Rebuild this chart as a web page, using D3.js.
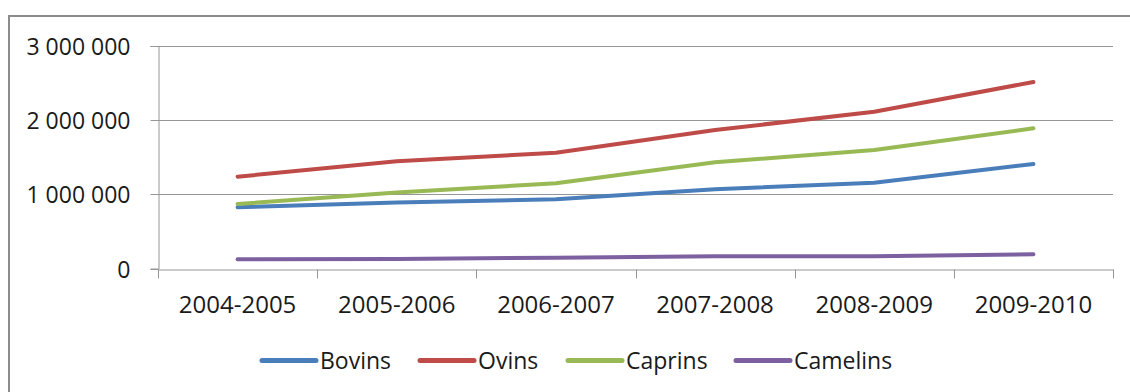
<!DOCTYPE html>
<html>
<head>
<meta charset="utf-8">
<script src="https://cdn.jsdelivr.net/npm/d3@7/dist/d3.min.js"></script>
<style>
  html, body { margin: 0; padding: 0; background: #fff; }
  svg { display: block; }
  text { font-family: "Open Sans", "Noto Sans", sans-serif; fill: #1a1a1a; }
</style>
</head>
<body>
<svg id="chart" width="1130" height="392"></svg>
<script>
// Campaign years (x categories)
const categories = ["2004-2005", "2005-2006", "2006-2007", "2007-2008", "2008-2009", "2009-2010"];

// Herd counts per species
const bovins   = [825000, 890000, 933000, 1068000, 1157000, 1409000];
const ovins    = [1238000, 1445000, 1561000, 1867000, 2114000, 2515000];
const caprins  = [870000, 1025000, 1149000, 1432000, 1598000, 1890000];
const camelins = [124000, 128000, 146000, 164000, 165000, 191000];

// Y axis ticks
const yTicks = [0, 1000000, 2000000, 3000000];
const yTickLabels = ["0", "1 000 000", "2 000 000", "3 000 000"];

const seriesNames = ["Bovins", "Ovins", "Caprins", "Camelins"];
const seriesColors = ["#4A7EBB", "#BE4B48", "#98B954", "#7D60A0"];

const series = [bovins, ovins, caprins, camelins].map((values, i) => ({
  name: seriesNames[i], color: seriesColors[i], values
}));

const svg = d3.select("#chart");

// Chart frame
svg.append("rect")
  .attr("x", 9).attr("y", 16)
  .attr("width", 1140).attr("height", 400)
  .attr("fill", "none").attr("stroke", "#8c8c8c").attr("stroke-width", 2);

const plot = { left: 158, right: 1113, top: 46, bottom: 268.5 };

const x = d3.scaleBand().domain(categories).range([plot.left, plot.right]).padding(0);
const y = d3.scaleLinear().domain([0, 3000000]).range([plot.bottom, plot.top]);

// Horizontal gridlines
svg.append("g")
  .selectAll("line")
  .data(yTicks.filter(t => t > 0))
  .join("line")
  .attr("x1", plot.left).attr("x2", plot.right)
  .attr("y1", d => Math.round(y(d)) + 0.5).attr("y2", d => Math.round(y(d)) + 0.5)
  .attr("stroke", "#969696").attr("stroke-width", 1);

// Y axis
const yAxis = d3.axisLeft(y)
  .tickValues(yTicks)
  .tickSize(8)
  .tickPadding(20)
  .tickFormat((d, i) => yTickLabels[i]);

const gy = svg.append("g").attr("transform", `translate(${plot.left + 0.5},0)`).call(yAxis);
gy.select(".domain").attr("stroke", "#969696");
gy.selectAll(".tick line").attr("stroke", "#969696");
gy.selectAll(".tick text").attr("font-size", 23).attr("dy", "0.36em").attr("fill", "#1a1a1a");
gy.selectAll(".tick").attr("transform", d => `translate(0,${Math.round(y(d)) + 0.5})`);

// X axis with ticks at category boundaries
const xAxis = d3.axisBottom(x).tickSize(0).tickPadding(26);
const gx = svg.append("g").attr("transform", `translate(0,${Math.round(plot.bottom) + 0.5})`).call(xAxis);
gx.select(".domain").attr("stroke", "#969696");
gx.selectAll(".tick text").attr("font-size", 24).attr("fill", "#1a1a1a");

const bounds = categories.map(c => x(c)).concat([x(categories[categories.length - 1]) + x.bandwidth()]);
gx.selectAll(".boundary")
  .data(bounds)
  .join("line")
  .attr("class", "boundary")
  .attr("x1", d => Math.round(d) + 0.5).attr("x2", d => Math.round(d) + 0.5)
  .attr("y1", 0).attr("y2", 9)
  .attr("stroke", "#969696");

// Series lines
const line = d3.line()
  .x((d, i) => x(categories[i]) + x.bandwidth() / 2)
  .y(d => y(d));

svg.append("g")
  .selectAll("path")
  .data(series)
  .join("path")
  .attr("d", d => line(d.values))
  .attr("fill", "none")
  .attr("stroke", d => d.color)
  .attr("stroke-width", 4)
  .attr("stroke-linecap", "round")
  .attr("stroke-linejoin", "round");

// Legend
const legendX = [262, 420, 568, 736];
const legendY = 360.5;
const legend = svg.append("g")
  .selectAll("g")
  .data(series)
  .join("g")
  .attr("transform", (d, i) => `translate(${legendX[i]},${legendY})`);

legend.append("line")
  .attr("x1", 0).attr("x2", 54)
  .attr("stroke", d => d.color)
  .attr("stroke-width", 5)
  .attr("stroke-linecap", "round");

legend.append("text")
  .attr("x", 58).attr("y", 0)
  .attr("dy", "0.36em")
  .attr("font-size", 23)
  .text(d => d.name);
</script>
</body>
</html>
